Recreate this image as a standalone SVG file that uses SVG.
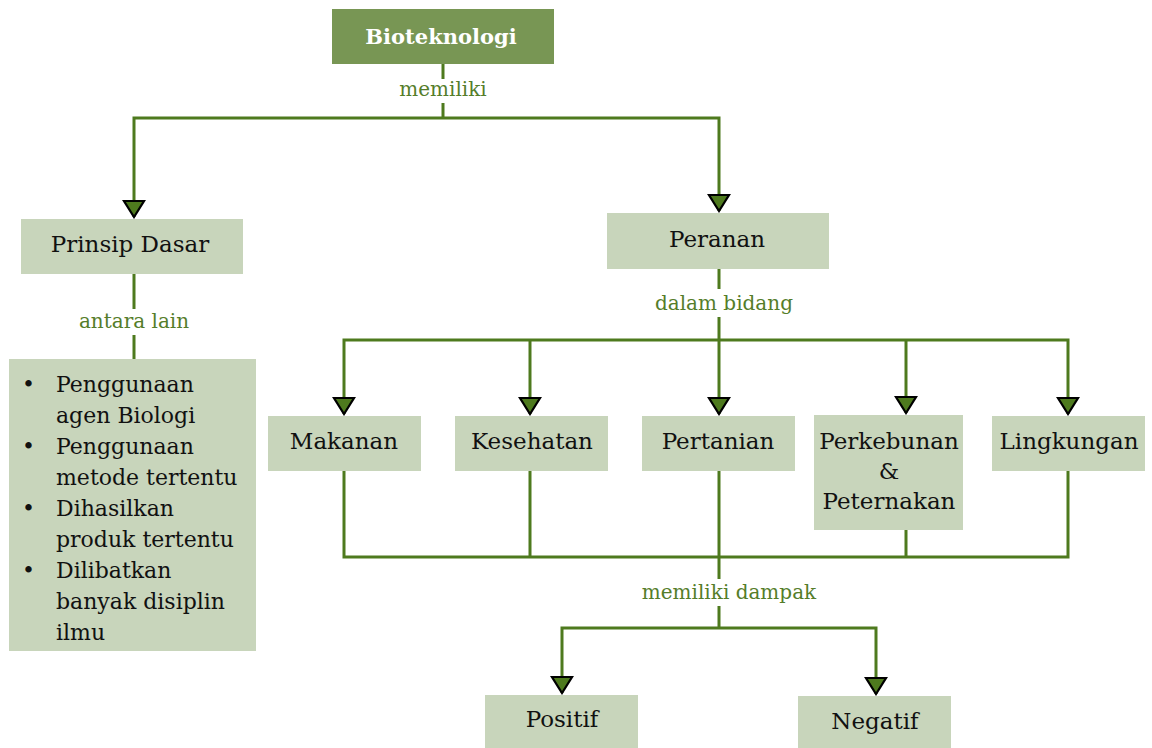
<svg xmlns="http://www.w3.org/2000/svg" width="1152" height="748" viewBox="0 0 1152 748">
<style>
.box{fill:#c8d5bb}
.top{fill:#789654}
.t{font-family:"DejaVu Serif","Liberation Serif",serif;font-size:23px;fill:#111;text-anchor:middle}
.tb{font-family:"DejaVu Serif","Liberation Serif",serif;font-size:21px;font-weight:bold;fill:#fff;text-anchor:middle}
.lbl{font-family:"DejaVu Serif","Liberation Serif",serif;font-size:20px;fill:#557d2a;text-anchor:middle}
.li{font-family:"DejaVu Serif","Liberation Serif",serif;font-size:22px;fill:#111}
.c{fill:none;stroke:#4e7a1e;stroke-width:3}
.ca{fill:none;stroke:#4e7a1e;stroke-width:3;marker-end:url(#ah)}
</style>
<defs>
<marker id="ah" markerUnits="userSpaceOnUse" viewBox="0 0 24 20" refX="12" refY="18" markerWidth="24" markerHeight="20" orient="0">
<path d="M2,2 L22,2 L12,18 Z" fill="#4e7a1e" stroke="#000" stroke-width="2.2" stroke-linejoin="miter"/>
</marker>
</defs>
<g id="connectors">
<path class="c" d="M443,64 V79 M443,103 V118"/>
<path class="ca" d="M443,118 H134 V217"/>
<path class="ca" d="M443,118 H719 V211"/>
<path class="c" d="M134,274 V309 M134,335 V359"/>
<path class="c" d="M719,269 V289 M719,317 V340"/>
<path class="ca" d="M719,340 H344 V414"/>
<path class="ca" d="M530,340 V414"/>
<path class="ca" d="M719,340 V414"/>
<path class="ca" d="M719,340 H1068 V414"/>
<path class="ca" d="M906,340 V413"/>
<path class="c" d="M344,471 V557 H1068 V471"/>
<path class="c" d="M530,471 V557 M906,530 V557"/>
<path class="c" d="M719,471 V579 M719,606 V628"/>
<path class="ca" d="M719,628 H562 V693"/>
<path class="ca" d="M719,628 H876 V694"/>
</g>
<g id="lbl-memiliki"><text class="lbl" x="443" y="96">memiliki</text></g>
<g id="lbl-antara"><text class="lbl" x="134" y="328">antara lain</text></g>
<g id="lbl-dalam"><text class="lbl" x="724" y="310">dalam bidang</text></g>
<g id="lbl-dampak"><text class="lbl" x="729" y="599">memiliki dampak</text></g>
<g id="bioteknologi"><rect class="top" x="332" y="9" width="222" height="55"/><text class="tb" x="441" y="44">Bioteknologi</text></g>
<g id="prinsip"><rect class="box" x="21" y="219" width="222" height="55"/><text class="t" x="130" y="252">Prinsip Dasar</text></g>
<g id="peranan"><rect class="box" x="607" y="213" width="222" height="56"/><text class="t" x="717" y="247">Peranan</text></g>
<g id="list"><rect class="box" x="9" y="359" width="247" height="292"/>
<text class="li" x="22" y="392">•</text><text class="li" x="56" y="392">Penggunaan</text>
<text class="li" x="56" y="423">agen Biologi</text>
<text class="li" x="22" y="454">•</text><text class="li" x="56" y="454">Penggunaan</text>
<text class="li" x="56" y="485">metode tertentu</text>
<text class="li" x="22" y="516">•</text><text class="li" x="56" y="516">Dihasilkan</text>
<text class="li" x="56" y="547">produk tertentu</text>
<text class="li" x="22" y="578">•</text><text class="li" x="56" y="578">Dilibatkan</text>
<text class="li" x="56" y="609">banyak disiplin</text>
<text class="li" x="56" y="640">ilmu</text>
</g>
<g id="makanan"><rect class="box" x="268" y="416" width="153" height="55"/><text class="t" x="344" y="449">Makanan</text></g>
<g id="kesehatan"><rect class="box" x="455" y="416" width="153" height="55"/><text class="t" x="532" y="449">Kesehatan</text></g>
<g id="pertanian"><rect class="box" x="642" y="416" width="153" height="55"/><text class="t" x="718" y="449">Pertanian</text></g>
<g id="perkebunan"><rect class="box" x="814" y="415" width="149" height="115"/><text class="t" x="889" y="449">Perkebunan</text><text class="t" x="889" y="479">&amp;</text><text class="t" x="889" y="509">Peternakan</text></g>
<g id="lingkungan"><rect class="box" x="992" y="416" width="153" height="55"/><text class="t" x="1069" y="449">Lingkungan</text></g>
<g id="positif"><rect class="box" x="485" y="695" width="153" height="53"/><text class="t" x="562" y="727">Positif</text></g>
<g id="negatif"><rect class="box" x="798" y="696" width="153" height="52"/><text class="t" x="875" y="729">Negatif</text></g>
</svg>
